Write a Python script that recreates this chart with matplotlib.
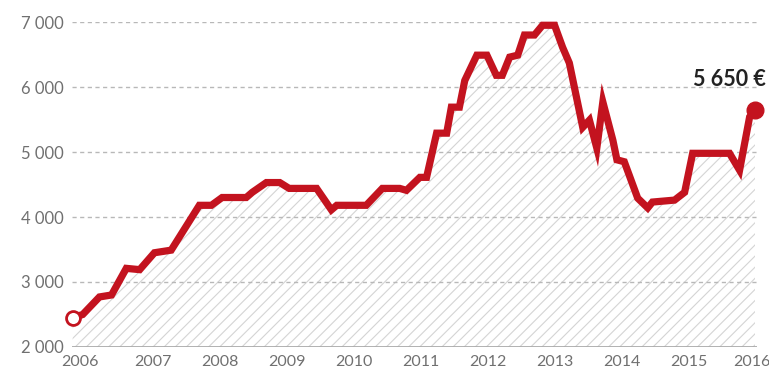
import matplotlib.pyplot as plt
from matplotlib.transforms import ScaledTranslation

# Tidpunkter (decimalår) och pris i euro
ar = [2005.81, 2005.96, 2006.21, 2006.39, 2006.61, 2006.81, 2007.03, 2007.28,
      2007.70, 2007.88, 2008.04, 2008.40, 2008.49, 2008.70, 2008.90, 2009.04,
      2009.45, 2009.67, 2009.75, 2010.19, 2010.43, 2010.69, 2010.79, 2010.99,
      2011.09, 2011.24, 2011.39, 2011.46, 2011.58, 2011.66, 2011.84, 2011.99,
      2012.13, 2012.22, 2012.33, 2012.45, 2012.55, 2012.70, 2012.82, 2013.00,
      2013.12, 2013.22, 2013.42, 2013.52, 2013.63, 2013.72, 2013.87, 2013.93,
      2014.04, 2014.24, 2014.39, 2014.46, 2014.79, 2014.94, 2015.06, 2015.61,
      2015.76, 2015.91, 2015.99]
pris = [2450, 2500, 2770, 2800, 3210, 3190, 3450, 3490,
        4180, 4180, 4300, 4300, 4380, 4530, 4530, 4440,
        4440, 4110, 4180, 4180, 4440, 4440, 4410, 4610,
        4610, 5290, 5290, 5690, 5690, 6100, 6490, 6490,
        6180, 6180, 6460, 6490, 6800, 6800, 6950, 6950,
        6610, 6370, 5380, 5490, 5060, 5770, 5180, 4880,
        4850, 4290, 4140, 4230, 4260, 4380, 4980, 4980,
        4720, 5540, 5650]
artal = list(range(2006, 2017))
ynivaer = [2000, 3000, 4000, 5000, 6000, 7000]
ytext = ['2 000', '3 000', '4 000', '5 000', '6 000', '7 000']
sista_text = '5 650 €'

rod = '#c3131f'
gra = '#707070'
typsnitt = ['Lato', 'DejaVu Sans']

fig = plt.figure(figsize=(7.69, 3.77), dpi=100)
ax = fig.add_axes([0.0936, 0.0796, 0.8908, 0.862])
plt.rcParams['hatch.linewidth'] = 0.8

# Skrafferad yta under kurvan
ax.fill_between(ar, pris, ynivaer[0], facecolor='none', edgecolor='#d4d4d4',
                hatch='///', linewidth=0)

# Stödlinjer
for y in ynivaer[1:]:
    ax.axhline(y, color='#b8b8b8', lw=1, ls=(0, (3, 2.5)), zorder=1)
ax.axhline(ynivaer[0], color='#aaaaaa', lw=2, zorder=1)

# Kurvan
ax.plot(ar, pris, color=rod, lw=5.2, solid_joinstyle='miter', zorder=3,
        clip_on=False)
ax.plot(ar[0], pris[0], 'o', ms=10, mfc='white', mec=rod, mew=2, zorder=4,
        clip_on=False)
ax.plot(ar[-1], pris[-1], 'o', ms=12, color=rod, zorder=4, clip_on=False)
ax.text(ar[-1] + 0.16, pris[-1] + 300, sista_text, ha='right', va='bottom',
        fontsize=15.5, fontweight='bold', color='#222222', family=typsnitt)

ax.set_xlim(2005.80, 2016.02)
ax.set_ylim(2000, 7000)
ax.set_xticks(artal)
ax.set_xticklabels([str(a) for a in artal])
ax.set_yticks(ynivaer)
ax.set_yticklabels(ytext)
ax.tick_params(axis='y', length=0, labelsize=12, labelcolor=gra, pad=6)
ax.tick_params(axis='x', length=0, labelsize=11.5, labelcolor=gra, pad=6)
for lab in ax.get_xticklabels() + ax.get_yticklabels():
    lab.set_family(typsnitt)
# Kantetiketterna flyttas lite inåt/utåt som i förlagan
xlabs = ax.get_xticklabels()
xlabs[0].set_transform(xlabs[0].get_transform()
                       + ScaledTranslation(-0.05, 0, fig.dpi_scale_trans))
xlabs[-1].set_transform(xlabs[-1].get_transform()
                        + ScaledTranslation(-0.04, 0, fig.dpi_scale_trans))
for s in ax.spines.values():
    s.set_visible(False)

fig.savefig('out.png', dpi=100)
